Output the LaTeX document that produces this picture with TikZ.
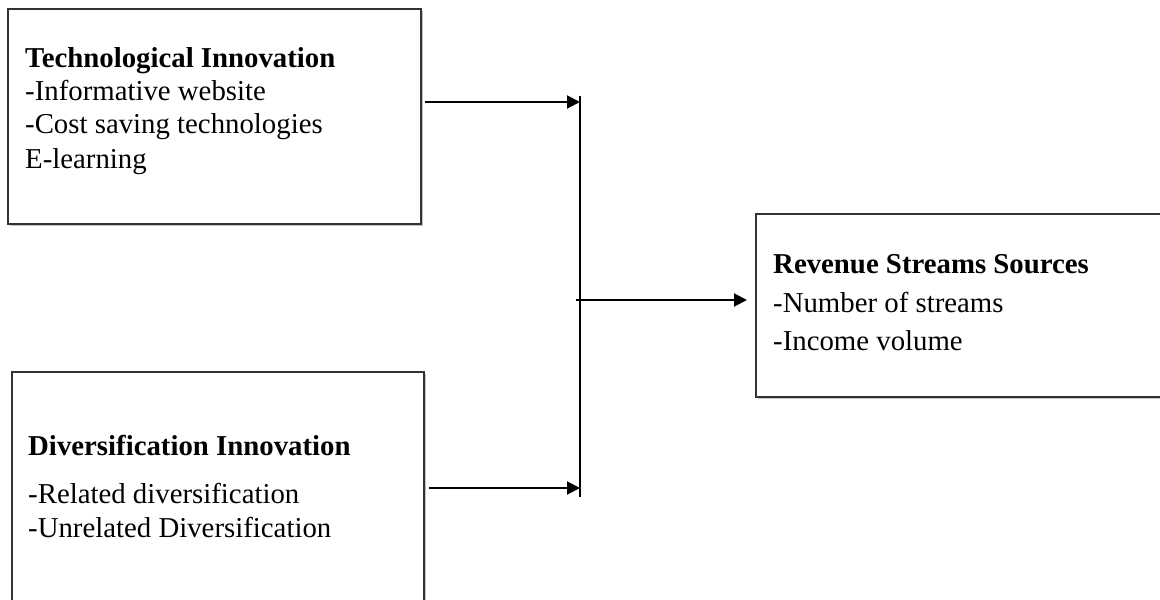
\documentclass[tikz,border=0pt]{standalone}
\usepackage{fontspec}
\setmainfont{Liberation Serif}
\usetikzlibrary{arrows.meta,shadows}
\begin{document}
\begin{tikzpicture}[x=1pt,y=-1pt,
  box/.style={draw=black!80, line width=2pt, fill=white, inner sep=0pt,
    anchor=north west,
    drop shadow={shadow xshift=1.8pt, shadow yshift=-1.8pt, fill=black!30, opacity=0.8}},
  txt/.style={anchor=base west, inner sep=0pt, font=\fontsize{28.8pt}{34pt}\selectfont},
  ttl/.style={txt, font=\fontsize{28.8pt}{34pt}\selectfont\bfseries},
  conn/.style={line width=2pt, black},
  arr/.style={conn, -{Triangle[length=13pt,width=13pt]}}]
\useasboundingbox (0,0) rectangle (1160,600);
% boxes
\node[box, minimum width=413pt, minimum height=215pt] (b1) at (7,8) {};
\node[box, minimum width=412pt, minimum height=250pt] (b2) at (11,371) {};
\node[box, minimum width=430pt, minimum height=183pt] (b3) at (755,213) {};
% box 1 text
\node[ttl] (t1) at (25,67) {Technological Innovation};
\node[txt] (t1a) at (25,100) {-Informative website};
\node[txt] (t1b) at (25,133) {-Cost saving technologies};
\node[txt] (t1c) at (25,168) {E-learning};
% box 2 text
\node[ttl] (t2) at (28,455) {Diversification Innovation};
\node[txt] (t2a) at (28,503) {-Related diversification};
\node[txt] (t2b) at (28,537) {-Unrelated Diversification};
% box 3 text
\node[ttl] (t3) at (773,273) {Revenue Streams Sources};
\node[txt] (t3a) at (773,312) {-Number of streams};
\node[txt] (t3b) at (773,350) {-Income volume};
% junction points
\coordinate (vtop) at (580,96);
\coordinate (vbot) at (580,497);
\coordinate (j1) at (580,102);
\coordinate (j2) at (580,488);
\coordinate (jm) at (576,300);
% connectors
\draw[conn] (vtop) -- (vbot);
\draw[arr, shorten <=3pt] (b1.east |- j1) -- (j1);
\draw[arr, shorten <=4pt] (b2.east |- j2) -- (j2);
\draw[arr, shorten >=8pt] (jm) -- (b3.west |- jm);
\end{tikzpicture}
\end{document}
